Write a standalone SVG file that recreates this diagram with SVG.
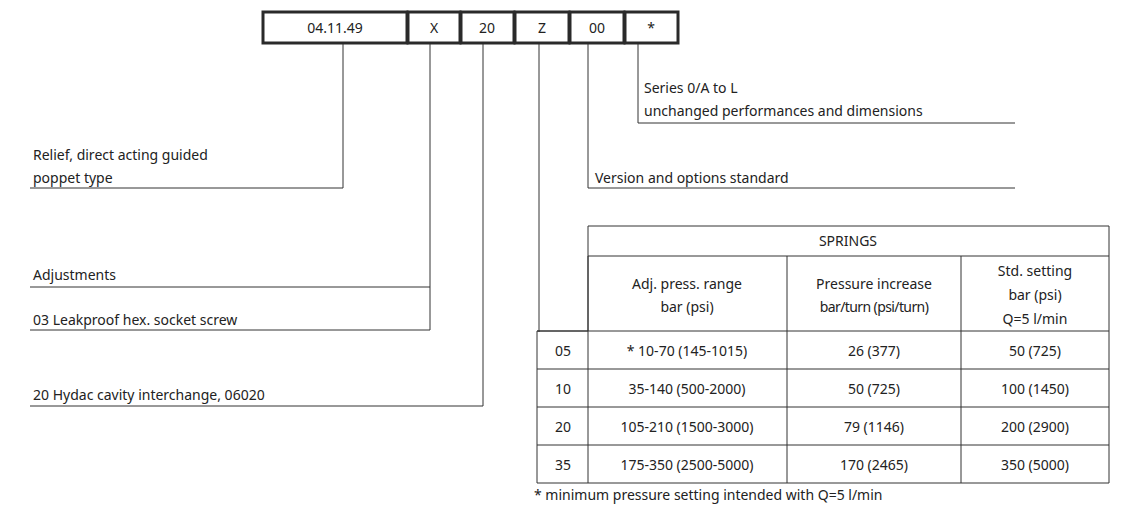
<svg xmlns="http://www.w3.org/2000/svg" width="1134" height="522" viewBox="0 0 1134 522">
<style>
text{font-family:"Noto Sans","Open Sans",sans-serif;font-size:14px;fill:#222}
.c{text-anchor:middle}
.l{stroke:#333;stroke-width:1;fill:none}
.box{fill:#fff;stroke:#2a2a2a;stroke-width:3}
</style>
<rect width="1134" height="522" fill="#fff"/>
<g id="code">
<rect class="box" x="263" y="12" width="144" height="31"/>
<rect class="box" x="408" y="12" width="52" height="31"/>
<rect class="box" x="461" y="12" width="53" height="31"/>
<rect class="box" x="515" y="12" width="54" height="31"/>
<rect class="box" x="570" y="12" width="54" height="31"/>
<rect class="box" x="625" y="12" width="53" height="31"/>
<text class="c" x="335" y="33" font-size="16">04.11.49</text>
<text class="c" x="434" y="33" font-size="16">X</text>
<text class="c" x="487" y="33" font-size="16">20</text>
<text class="c" x="542" y="33" font-size="16">Z</text>
<text class="c" x="597" y="33" font-size="16">00</text>
<text class="c" x="651" y="33" font-size="16">*</text>
</g>
<g id="connectors">
<polyline class="l" points="343,44 343,188 30,188"/>
<polyline class="l" points="430,44 430,330 30,330"/>
<line class="l" x1="30" y1="287" x2="430" y2="287"/>
<polyline class="l" points="483,44 483,406 30,406"/>
<line class="l" x1="539" y1="44" x2="539" y2="332"/>
<polyline class="l" points="588,44 588,188 1015,188"/>
<polyline class="l" points="638,44 638,123 1015,123"/>
</g>
<g id="labels">
<text x="33" y="160">Relief, direct acting guided</text>
<text x="33" y="183">poppet type</text>
<text x="33" y="280">Adjustments</text>
<text x="33" y="325">03 Leakproof hex. socket screw</text>
<text x="33" y="400">20 Hydac cavity interchange, 06020</text>
<text x="644" y="93">Series 0/A to L</text>
<text x="644" y="116">unchanged performances and dimensions</text>
<text x="595" y="183">Version and options standard</text>
</g>
<g id="table">
<path class="l" d="M588,226H1109V483H537V331H588ZM588,256H1109M537,331H1109M537,369H1109M537,407H1109M537,445H1109M588,256V483M787,256V483M961,256V483"/>
<text class="c" x="848" y="246">SPRINGS</text>
<text class="c" x="687" y="289">Adj. press. range</text>
<text class="c" x="687" y="312">bar (psi)</text>
<text class="c" x="874" y="289">Pressure increase</text>
<text class="c" x="874" y="312" font-size="13" letter-spacing="-0.6">bar/turn (psi/turn)</text>
<text class="c" x="1035" y="276">Std. setting</text>
<text class="c" x="1035" y="300">bar (psi)</text>
<text class="c" x="1035" y="324">Q=5 l/min</text>
<text class="c" x="563" y="356">05</text>
<text class="c" x="687" y="356">* 10-70 (145-1015)</text>
<text class="c" x="874" y="356">26 (377)</text>
<text class="c" x="1035" y="356">50 (725)</text>
<text class="c" x="563" y="394">10</text>
<text class="c" x="687" y="394">35-140 (500-2000)</text>
<text class="c" x="874" y="394">50 (725)</text>
<text class="c" x="1035" y="394">100 (1450)</text>
<text class="c" x="563" y="432">20</text>
<text class="c" x="687" y="432">105-210 (1500-3000)</text>
<text class="c" x="874" y="432">79 (1146)</text>
<text class="c" x="1035" y="432">200 (2900)</text>
<text class="c" x="563" y="470">35</text>
<text class="c" x="687" y="470">175-350 (2500-5000)</text>
<text class="c" x="874" y="470">170 (2465)</text>
<text class="c" x="1035" y="470">350 (5000)</text>
<text x="534" y="500">* minimum pressure setting intended with Q=5 l/min</text>
</g>
</svg>
